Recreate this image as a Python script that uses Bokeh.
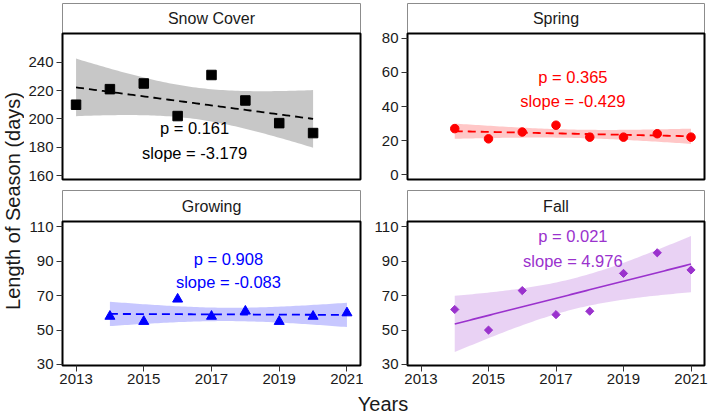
import numpy as np
from bokeh.plotting import figure
from bokeh.models import Range1d, Label
from bokeh.layouts import row, column
from bokeh.embed import file_html
from bokeh.resources import INLINE

# ---------------- data ----------------
snow_years = [2013, 2014, 2015, 2016, 2017, 2018, 2019, 2020]
snow_days = [210, 221, 225, 202, 231, 213, 197, 190]
season_years = [2014, 2015, 2016, 2017, 2018, 2019, 2020, 2021]
spring_days = [27, 21, 25, 29, 22, 22, 24, 22]
growing_days = [58, 55, 68, 58, 61, 55, 58, 60]
fall_days = [62, 50, 73, 59, 61, 83, 95, 85]

panel_titles = ["Snow Cover", "Spring", "Growing", "Fall"]
p_values = ["0.161", "0.365", "0.908", "0.021"]
slope_labels = ["-3.179", "-0.429", "-0.083", "4.976"]

x_ticks = [2013, 2015, 2017, 2019, 2021]
snow_ticks = [160, 180, 200, 220, 240]
spring_ticks = [0, 20, 40, 60, 80]
season_ticks = [30, 50, 70, 90, 110]

T975_DF6 = 2.446912  # Student t quantile for a 95% CI with n-2 = 6

FONT = "Liberation Sans"
XLIM = (2012.6, 2021.4)
PAD = 2  # pixels of frame around panel+strip, so border lines are not clipped


def linfit(x, y):
    x = np.asarray(x, float)
    y = np.asarray(y, float)
    n = len(x)
    b, a = np.polyfit(x, y, 1)
    xs = np.linspace(x.min(), x.max(), 80)
    yhat = a + b * xs
    resid = y - (a + b * x)
    s = np.sqrt(np.sum(resid ** 2) / (n - 2))
    xm = x.mean()
    sxx = np.sum((x - xm) ** 2)
    se = s * np.sqrt(1.0 / n + (xs - xm) ** 2 / sxx)
    return xs, yhat, yhat - T975_DF6 * se, yhat + T975_DF6 * se


def style_axis(ax, ticks, standoff):
    ax.ticker = ticks
    ax.axis_line_color = None
    ax.major_tick_line_color = "#333333"
    ax.major_tick_out = 4
    ax.major_tick_in = PAD
    ax.minor_tick_line_color = None
    ax.major_label_text_font = FONT
    ax.major_label_text_font_size = "15px"
    ax.major_label_text_color = "#1a1a1a"
    ax.major_label_standoff = standoff


def panel(title, xv, yv, color, marker, msize, mangle, dash, ylim, yticks, show_x,
          pw, ph, strip_h, mbl, mbr, mbt, mbb, pv, sl, px, py1, py2):
    ux = (XLIM[1] - XLIM[0]) / pw
    uy = (ylim[1] - ylim[0]) / ph
    xr = Range1d(XLIM[0] - PAD * ux, XLIM[1] + PAD * ux)
    yr = Range1d(ylim[0] - PAD * uy, ylim[1] + (strip_h + PAD) * uy)
    p = figure(frame_width=pw + 2 * PAD, frame_height=ph + strip_h + 2 * PAD,
               x_range=xr, y_range=yr, toolbar_location=None, output_backend="svg",
               x_axis_location="below" if show_x else None,
               min_border_left=mbl, min_border_right=mbr, min_border_top=mbt, min_border_bottom=mbb)
    p.outline_line_color = None
    p.background_fill_color = "white"
    p.border_fill_color = "white"
    p.xgrid.grid_line_color = None
    p.ygrid.grid_line_color = None
    style_axis(p.yaxis[0], yticks, 3)
    if show_x:
        style_axis(p.xaxis[0], x_ticks, 2)

    xs, yhat, lo, hi = linfit(xv, yv)
    p.varea(x=xs, y1=lo, y2=hi, fill_color=color, fill_alpha=0.22)
    if dash:
        p.line(xs, yhat, line_color=color, line_width=1.8, line_dash="8 5")
    else:
        p.line(xs, yhat, line_color=color, line_width=1.6)
    p.scatter(xv, yv, marker=marker, size=msize, angle=mangle, fill_color=color, line_color=color)

    # strip box above the panel, then the panel border
    strip_top = ylim[1] + strip_h * uy
    p.quad(left=[XLIM[0]], right=[XLIM[1]], bottom=[ylim[1]], top=[strip_top],
           fill_color="white", line_color="#8c8c8c", line_width=1)
    p.quad(left=[XLIM[0]], right=[XLIM[1]], bottom=[ylim[0]], top=[ylim[1]],
           fill_color=None, line_color="black", line_width=2)
    p.add_layout(Label(x=(XLIM[0] + XLIM[1]) / 2, y=ylim[1] + strip_h / 2 * uy, text=title,
                       text_align="center", text_baseline="middle",
                       text_font=FONT, text_font_size="16px", text_color="#1a1a1a"))

    p.add_layout(Label(x=px, y=py1, text="p = " + pv, text_align="center", text_baseline="middle",
                       text_font=FONT, text_font_size="16.5px", text_color=color))
    p.add_layout(Label(x=px, y=py2, text="slope = " + sl, text_align="center", text_baseline="middle",
                       text_font=FONT, text_font_size="16.5px", text_color=color))
    return p


RED = "#ff0000"
BLUE = "#0000ff"
PURPLE = "#9a32cd"

# geometry (pixels)
LW, RW = 298, 297
L_MBL, L_MBR = 36, 1
R_MBL, R_MBR = 42, 3

p1 = panel(panel_titles[0], snow_years, snow_days, "black", "square", 9.5, 0, True,
           (157.2, 260.3), snow_ticks, False, LW, 146, 30, L_MBL, L_MBR, 1, 7,
           p_values[0], slope_labels[0], 2016.5, 193.3, 175.6)
p2 = panel(panel_titles[1], season_years, spring_days, RED, "circle", 8.5, 0, True,
           (-2.9, 82.9), spring_ticks, False, RW, 146, 30, R_MBL, R_MBR, 1, 7,
           p_values[1], slope_labels[1], 2017.5, 57.4, 43.2)
p3 = panel(panel_titles[2], season_years, growing_days, BLUE, "triangle", 10, 0, True,
           (29.4, 113.2), season_ticks, True, LW, 144, 31, L_MBL, L_MBR, 0, 26,
           p_values[2], slope_labels[2], 2017.5, 91.5, 78.0)
p4 = panel(panel_titles[3], season_years, fall_days, PURPLE, "square", 5.8, np.pi / 4, False,
           (29.4, 113.2), season_ticks, True, RW, 144, 31, R_MBL, R_MBR, 0, 26,
           p_values[3], slope_labels[3], 2017.5, 105.0, 90.5)

# axis titles
ylab = figure(frame_width=24, frame_height=414, x_range=Range1d(0, 24), y_range=Range1d(0, 414),
              toolbar_location=None, output_backend="svg", x_axis_location=None, y_axis_location=None,
              min_border=0)
ylab.outline_line_color = None
ylab.xgrid.grid_line_color = None
ylab.ygrid.grid_line_color = None
ylab.add_layout(Label(x=12, y=213.5, text="Length of Season (days)", angle=np.pi / 2,
                      text_align="center", text_baseline="middle", text_font=FONT,
                      text_font_size="20px", text_color="#1a1a1a"))

xlab = figure(frame_width=685, frame_height=21, x_range=Range1d(0, 685), y_range=Range1d(0, 21),
              toolbar_location=None, output_backend="svg", x_axis_location=None, y_axis_location=None,
              min_border=0)
xlab.outline_line_color = None
xlab.xgrid.grid_line_color = None
xlab.ygrid.grid_line_color = None
xlab.add_layout(Label(x=358.5, y=11, text="Years", text_align="center", text_baseline="middle",
                      text_font=FONT, text_font_size="20px", text_color="#1a1a1a"))

layout = row(ylab, column(row(p1, p2), row(p3, p4), xlab))

open("out.html", "w").write(file_html(layout, INLINE))
